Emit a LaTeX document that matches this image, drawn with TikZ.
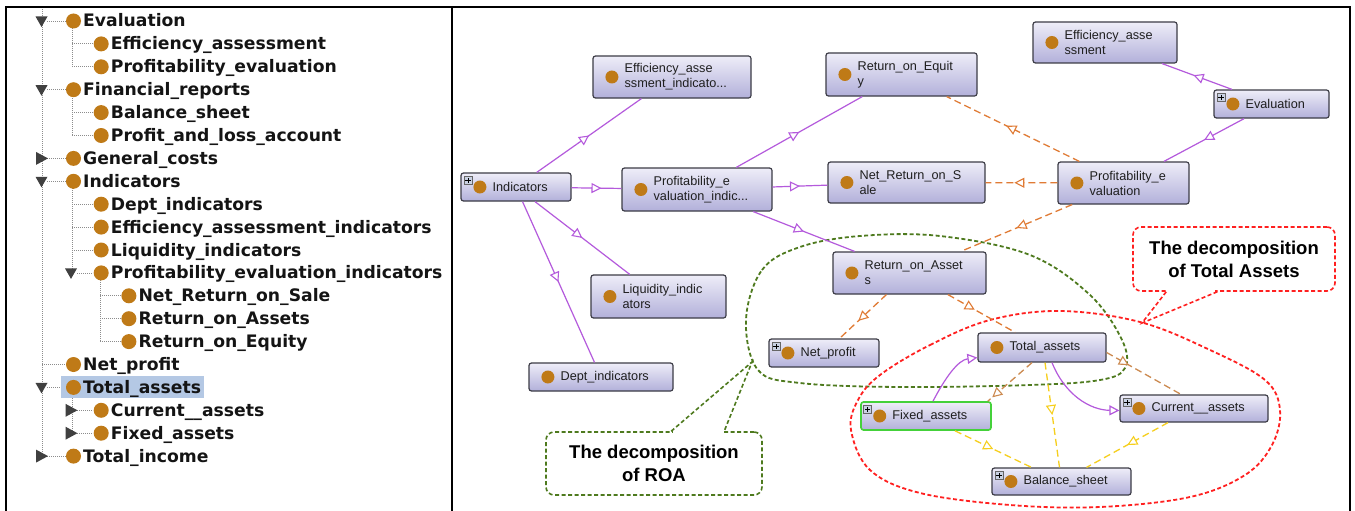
\documentclass[tikz,border=0pt]{standalone}
\usepackage{fontspec}
\setmainfont{Liberation Sans}
\newfontfamily\treefont{DejaVu Sans}
\usetikzlibrary{arrows.meta,decorations.markings,calc}
\definecolor{nodeborder}{HTML}{3C3C46}
\definecolor{nodetop}{HTML}{EEEDF8}
\definecolor{nodebot}{HTML}{B2B0DA}
\definecolor{owldot}{HTML}{BF7A17}
\definecolor{purp}{HTML}{B45ADC}
\definecolor{orng}{HTML}{E07B35}
\definecolor{brng}{HTML}{CC8A50}
\definecolor{yell}{HTML}{F6CF1E}
\definecolor{olivegr}{HTML}{4E7A1E}
\definecolor{redd}{HTML}{FF2020}
\definecolor{selblue}{HTML}{B4C8E4}
\definecolor{trigray}{HTML}{404040}
\definecolor{plusfill}{HTML}{C9D1E3}
\definecolor{greenbd}{HTML}{44D13A}
\tikzset{
 obox/.style={draw=nodeborder, line width=1.2pt, rounded corners=2.5pt, top color=nodetop, bottom color=nodebot, inner sep=0pt},
 olbl/.style={font=\fontsize{12.7}{15}\selectfont, anchor=west, align=left, inner sep=0pt, text=black!88},
 tlbl/.style={font=\treefont\bfseries\fontsize{17.2}{18}\selectfont, anchor=base west, inner sep=0pt, text=black!92},
 plusbox/.style={draw=black!60, fill=plusfill, line width=0.6pt, minimum size=8pt, inner sep=0pt},
 pedge/.style={draw=purp, line width=1.2pt},
 oedge/.style={draw=orng, line width=1.3pt, dash pattern=on 7pt off 4pt},
 yedge/.style={draw=yell, line width=1.3pt, dash pattern=on 7pt off 4pt},
 midtri/.style={postaction={decorate}, decoration={markings, mark=at position #1 with {\arrow{Triangle[length=10pt,width=10pt,fill=white,line width=1.1pt]}}}},
 endtri/.style={-{Triangle[length=10pt,width=10pt,fill=white]}},
 dotl/.style={draw=black!45, line width=0.8pt, dash pattern=on 1pt off 1pt},
 callG/.style={draw=olivegr, line width=1.6pt, dash pattern=on 4pt off 2.5pt, rounded corners=8pt, align=center, font=\bfseries\fontsize{18.5}{23}\selectfont, fill=white, inner sep=0pt},
 callR/.style={draw=redd, line width=1.6pt, dash pattern=on 4pt off 2.5pt, rounded corners=8pt, align=center, font=\bfseries\fontsize{18.5}{23}\selectfont, fill=white, inner sep=0pt},
 lineG/.style={draw=olivegr, line width=1.6pt, dash pattern=on 4pt off 2.5pt},
 lineR/.style={draw=redd, line width=1.6pt, dash pattern=on 4pt off 2.5pt},
}
\newcommand\obj[7][]{%
  \node[obox, minimum width=#5, minimum height=#6, #1] (#2) at (#3,#4) {};
  \fill[owldot] ($(#2.west)+(19.5,0)$) circle[radius=6.5];
  \node[olbl] (#2-t) at ($(#2.west)+(32,0)$) {#7};}
\newcommand\pls[1]{%
  \node[plusbox, path picture={\draw[black, line width=0.8pt] ([xshift=-2.6pt]path picture bounding box.center) -- ([xshift=2.6pt]path picture bounding box.center) ([yshift=-2.6pt]path picture bounding box.center) -- ([yshift=2.6pt]path picture bounding box.center);}] (#1-p) at ($(#1.north west)+(7.5,8)$) {};}
\newcommand\trow[4]{%
  \pgfmathsetmacro\ty{21+22.9*#3}%
  \pgfmathsetmacro\cx{73.5+27.7*#2}%
  \fill[owldot] (\cx,\ty) circle[radius=7.5];
  \node[tlbl] (#1) at (\cx+9.5,\ty+6) {#4};}
\newcommand\tdown[2]{% x, row
  \pgfmathsetmacro\ty{21+22.9*#2}%
  \fill[trigray] (#1-6,\ty-4.5) -- (#1+6,\ty-4.5) -- (#1,\ty+6) -- cycle;}
\newcommand\tright[2]{%
  \pgfmathsetmacro\ty{21+22.9*#2}%
  \fill[trigray] (#1-5.5,\ty-6.5) -- (#1+6.5,\ty) -- (#1-5.5,\ty+6.5) -- cycle;}
\newcommand\stub[3]{% x1, x2, row
  \pgfmathsetmacro\ty{21+22.9*#3}%
  \draw[dotl] (#1,\ty) -- (#2,\ty);}
\begin{document}
\begin{tikzpicture}[x=1pt,y=-1pt]
\useasboundingbox (0,0) rectangle (1355,511);
\fill[white] (0,0) rectangle (1355,511);
% ---------- frame ----------
\draw[line width=2pt] (6,511) -- (6,7) -- (1350,7) -- (1350,511);
\draw[line width=2pt] (452,7) -- (452,511);
% ---------- tree ----------
\draw[dotl] (42,9) -- (42,456);
\draw[dotl] (72,28) -- (72,67.8);
\draw[dotl] (72,96) -- (72,135.5);
\draw[dotl] (72,188) -- (72,272.9);
\draw[dotl] (72,394) -- (72,433.4);
\draw[dotl] (100,280) -- (100,341.6);
% stubs
\foreach \r in {0,3,6,7,16,19} {\stub{47}{66}{\r}}
\stub{42}{66}{15}
\foreach \r in {1,2,4,5,8,9,10} {\stub{72}{93}{\r}}
\foreach \r in {11,17,18} {\stub{77}{93}{\r}}
\foreach \r in {12,13,14} {\stub{100}{121}{\r}}
% triangles
\tdown{41.5}{0} \tdown{41.5}{3} \tright{41.5}{6} \tdown{41.5}{7}
\tdown{71}{11} \tdown{41.5}{16} \tright{71}{17} \tright{71}{18} \tright{41.5}{19}
% selection
\fill[selblue] (61,376) rectangle (204,398);
\trow{t0}{0}{0}{Evaluation}
\trow{t1}{1}{1}{Efficiency\_assessment}
\trow{t2}{1}{2}{Profitability\_evaluation}
\trow{t3}{0}{3}{Financial\_reports}
\trow{t4}{1}{4}{Balance\_sheet}
\trow{t5}{1}{5}{Profit\_and\_loss\_account}
\trow{t6}{0}{6}{General\_costs}
\trow{t7}{0}{7}{Indicators}
\trow{t8}{1}{8}{Dept\_indicators}
\trow{t9}{1}{9}{Efficiency\_assessment\_indicators}
\trow{t10}{1}{10}{Liquidity\_indicators}
\trow{t11}{1}{11}{Profitability\_evaluation\_indicators}
\trow{t12}{2}{12}{Net\_Return\_on\_Sale}
\trow{t13}{2}{13}{Return\_on\_Assets}
\trow{t14}{2}{14}{Return\_on\_Equity}
\trow{t15}{0}{15}{Net\_profit}
\trow{t16}{0}{16}{Total\_assets}
\trow{t17}{1}{17}{Current\_\_assets}
\trow{t18}{1}{18}{Fixed\_assets}
\trow{t19}{0}{19}{Total\_income}
% ---------- grouping curves ----------
\draw[lineG, line width=1.8pt] plot[smooth cycle, tension=0.6] coordinates {(746,320) (762,270) (800,247) (860,236) (940,236) (1030,255) (1090,295) (1122,340) (1125,368) (1100,380) (1030,385) (900,387) (800,383) (758,370)};
\draw[lineR, line width=1.8pt] plot[smooth cycle, tension=0.6] coordinates {(880,375) (930,345) (990,320) (1060,311) (1140,322) (1210,350) (1265,380) (1280,410) (1272,445) (1245,475) (1190,497) (1100,507) (1010,505) (920,493) (870,470) (851,430) (858,400)};
% ---------- nodes ----------
\obj{effind}{672}{77}{158}{42}{Efficiency\_asse\\ssment\_indicato...}
\obj{ind}{516}{187}{110}{28}{Indicators}
\obj{profind}{697}{189.5}{150}{43}{Profitability\_e\\valuation\_indic...}
\obj{roe}{901.5}{74.5}{151}{43}{Return\_on\_Equit\\y}
\obj{nros}{906.5}{182.5}{157}{41}{Net\_Return\_on\_S\\ale}
\obj{effass}{1105}{42.5}{144}{41}{Efficiency\_asse\\ssment}
\obj{eval}{1271.5}{104}{115}{28}{Evaluation}
\obj{profev}{1123.5}{183}{131}{42}{Profitability\_e\\valuation}
\obj{roa}{909.5}{273}{153}{42}{Return\_on\_Asset\\s}
\obj{np}{824}{353}{110}{28}{Net\_profit}
\obj{ta}{1042}{347.5}{128}{29}{Total\_assets}
\obj[draw=greenbd, line width=1.6pt]{fa}{926}{416}{130}{28}{Fixed\_assets}
\obj{ca}{1194}{408.5}{148}{27}{Current\_\_assets}
\obj{bs}{1061.5}{481.5}{139}{27}{Balance\_sheet}
\obj{liq}{658.5}{296.5}{135}{43}{Liquidity\_indic\\ators}
\obj{dept}{601}{377}{144}{28}{Dept\_indicators}
\pls{ind} \pls{eval} \pls{np} \pls{fa} \pls{ca} \pls{bs}
% ---------- edges ----------
\draw[pedge, midtri=0.5] (ind) -- (effind);
\draw[pedge, midtri=0.6] (ind) -- (profind);
\draw[pedge, midtri=0.5] (ind) -- (liq);
\draw[pedge, midtri=0.5] (ind) -- (dept);
\draw[pedge, midtri=0.5] (profind) -- (roe);
\draw[pedge, midtri=0.5] (profind) -- (nros);
\draw[pedge, midtri=0.5] (profind) -- (roa);
\draw[pedge, midtri=0.55] (eval) -- (effass);
\draw[pedge, midtri=0.5] (eval) -- (profev);
\draw[oedge, midtri=0.55] (profev) -- (roe);
\draw[oedge, midtri=0.6] (profev) -- (nros);
\draw[oedge, midtri=0.5] (profev) -- (roa);
\draw[oedge, midtri=0.6] (roa) -- (np);
\draw[oedge, midtri=0.4] (roa) -- (ta);
\draw[oedge, draw=brng, midtri=0.9] ($(ta.south)+(-10,0)$) -- ($(fa.north east)+(-4,0)$);
\draw[oedge, draw=brng, midtri=0.3] ($(ta.east)+(0,5)$) -- ($(ca.north)+(-13,0)$);
\draw[yedge, midtri=0.5] ($(ta.south)+(3,0)$) -- ($(bs.north)+(-2,0)$);
\draw[yedge, midtri=0.5] ($(fa.south)+(29,0)$) -- ($(bs.north)+(-30,0)$);
\draw[yedge, midtri=0.5] ($(ca.south)+(-26,0)$) -- ($(bs.north)+(25,0)$);
\draw[pedge, endtri] ($(fa.north)+(7,0)$) .. controls (945,378) and (958,360) .. ($(ta.south west)+(0,-5)$);
\draw[pedge, endtri] ($(ta.south)+(10,0)$) .. controls (1065,395) and (1090,410) .. ($(ca.west)+(0,2)$);
% ---------- callouts ----------
\node[callG, minimum width=216, minimum height=63] (roaC) at (654,463.5) {The decomposition\\of ROA};
\draw[white, line width=3pt] ($(roaC.north west)+(128,0)$) -- ($(roaC.north west)+(177,0)$);
\coordinate (roaTip) at (752,362);
\draw[lineG] ($(roaC.north west)+(126,0)$) -- (roaTip) -- ($(roaC.north west)+(179,0)$);
\node[callR, minimum width=202, minimum height=64] (taC) at (1234,259) {The decomposition\\of Total Assets};
\draw[white, line width=3pt] ($(taC.south west)+(36,0)$) -- ($(taC.south west)+(83,0)$);
\coordinate (taTip) at (1142,323);
\draw[lineR] ($(taC.south west)+(34,0)$) -- (taTip) -- ($(taC.south west)+(85,0)$);
\end{tikzpicture}
\end{document}
